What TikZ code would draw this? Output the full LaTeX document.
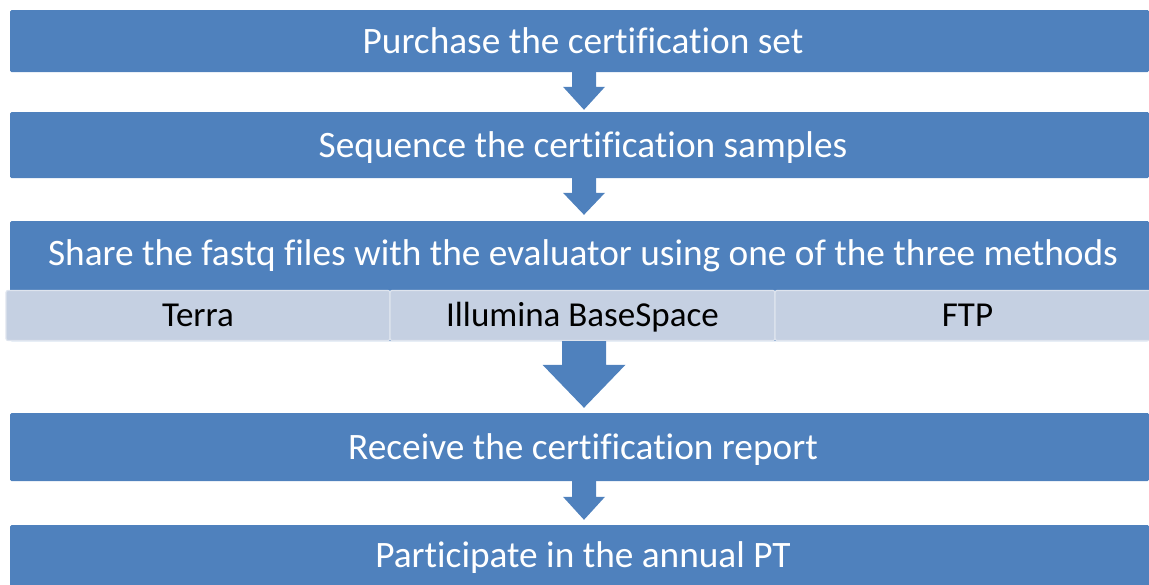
\documentclass[tikz,border=0pt]{standalone}
\usepackage{fontspec}
\setmainfont{Carlito}[Ligatures=NoCommon]
\usetikzlibrary{calc}
\definecolor{stepblue}{RGB}{79,129,189}
\definecolor{subfill}{RGB}{197,208,226}
\definecolor{subedge}{RGB}{222,228,238}
\tikzset{
  stepbox/.style={fill=stepblue, draw=none, rounded corners=1.5pt, inner sep=0pt, minimum width=1139pt},
  steptext/.style={text=white, font=\fontsize{37.3}{44}\selectfont, inner sep=0pt, text height=30pt, text depth=6pt},
  subbox/.style={fill=subfill, draw=subedge, line width=1.2pt, rounded corners=2pt, inner sep=0pt, minimum height=50pt,
     font=\fontsize{35}{42}\selectfont, text=black, text height=28pt, text depth=5.5pt},
  arrowfill/.style={fill=stepblue, draw=none},
}
\newcommand\flowarrow[6]{%
 \fill[arrowfill] ($(#1.south)+(4.5-#4,0)$) -- ($(#2.north)+(4.5-#4,-#3-#6)$) -- ($(#2.north)+(4.5-#5,-#3-#6)$) -- ($(#2.north)+(4.5,-#3)$) -- ($(#2.north)+(4.5+#5,-#3-#6)$) -- ($(#2.north)+(4.5+#4,-#3-#6)$) -- ($(#1.south)+(4.5+#4,0)$) -- cycle;}
\begin{document}
\begin{tikzpicture}[x=1pt,y=-1pt]
\useasboundingbox (0,0) rectangle (1149,584);
% boxes
\node[stepbox, minimum height=62pt] (b1) at (579.5,41) {};
\node[steptext] (t1) at ($(b1.center)+(3.5,0)$) {Purchase the certification set};
\node[stepbox, minimum height=66pt] (b2) at (579.5,145) {};
\node[steptext] (t2) at ($(b2.center)+(3.5,0)$) {Sequence the certification samples};
\node[stepbox, minimum height=120pt] (b3) at (579.5,281) {};
\node[steptext] (t3) at (583,253) {Share the fastq files with the evaluator using one of the three methods};
\node[subbox, minimum width=384pt] (s1) at (198,315.5) {Terra};
\node[subbox, minimum width=385pt] (s2) at (582.5,315.5) {Illumina BaseSpace};
\node[subbox, minimum width=385pt] (s3) at (967.5,315.5) {FTP};
\node[stepbox, minimum height=68pt] (b4) at (579.5,447) {};
\node[steptext] (t4) at ($(b4.center)+(3.5,0)$) {Receive the certification report};
\node[stepbox, minimum height=70pt] (b5) at (579.5,560) {};
\node[steptext] (t5) at (583,555) {Participate in the annual PT};
% arrows
\flowarrow{b1}{b2}{2}{12}{21}{23}
\flowarrow{b2}{b3}{6}{12}{21}{22}
\flowarrow{b3}{b4}{5}{22}{41.5}{43}
\flowarrow{b4}{b5}{5}{12}{21}{23}
\end{tikzpicture}
\end{document}
